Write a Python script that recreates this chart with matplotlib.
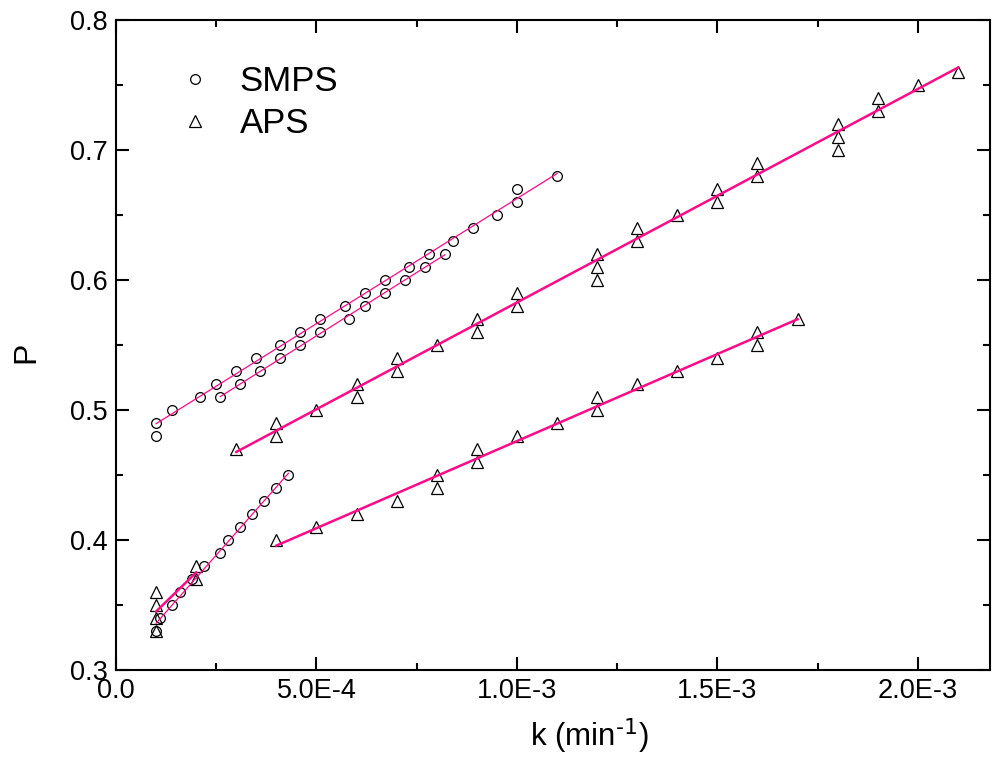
import numpy as np
import matplotlib
matplotlib.use("Agg")
import matplotlib.pyplot as plt
from matplotlib.ticker import MultipleLocator

plt.rcParams['font.family'] = ['Liberation Sans', 'DejaVu Sans']
plt.rcParams['mathtext.default'] = 'regular'

# SMPS series (circles)
smps1_k = [1e-4, 1e-4, 1.4e-4, 2.1e-4, 2.5e-4, 3.0e-4, 3.5e-4, 4.1e-4, 4.6e-4, 5.1e-4, 5.7e-4,
           6.2e-4, 6.7e-4, 7.3e-4, 7.8e-4, 8.4e-4, 8.9e-4, 9.5e-4, 1.0e-3, 1.0e-3, 1.1e-3]
smps1_p = [0.49, 0.48, 0.50, 0.51, 0.52, 0.53, 0.54, 0.55, 0.56, 0.57, 0.58,
           0.59, 0.60, 0.61, 0.62, 0.63, 0.64, 0.65, 0.66, 0.67, 0.68]
smps2_k = [2.6e-4, 3.1e-4, 3.6e-4, 4.1e-4, 4.6e-4, 5.1e-4, 5.8e-4, 6.2e-4, 6.7e-4, 7.2e-4, 7.7e-4, 8.2e-4]
smps2_p = [0.51, 0.52, 0.53, 0.54, 0.55, 0.56, 0.57, 0.58, 0.59, 0.60, 0.61, 0.62]
smps3_k = [1.0e-4, 1.1e-4, 1.4e-4, 1.6e-4, 1.9e-4, 2.2e-4, 2.6e-4, 2.8e-4, 3.1e-4, 3.4e-4, 3.7e-4, 4.0e-4, 4.3e-4]
smps3_p = [0.33, 0.34, 0.35, 0.36, 0.37, 0.38, 0.39, 0.40, 0.41, 0.42, 0.43, 0.44, 0.45]

# APS series (triangles)
aps1_k = [3e-4, 4e-4, 4e-4, 5e-4, 6e-4, 6e-4, 7e-4, 7e-4, 8e-4, 9e-4, 9e-4, 1.0e-3, 1.0e-3,
          1.2e-3, 1.2e-3, 1.2e-3, 1.3e-3, 1.3e-3, 1.4e-3, 1.5e-3, 1.5e-3, 1.6e-3, 1.6e-3,
          1.8e-3, 1.8e-3, 1.8e-3, 1.9e-3, 1.9e-3, 2.0e-3, 2.1e-3]
aps1_p = [0.47, 0.49, 0.48, 0.50, 0.52, 0.51, 0.54, 0.53, 0.55, 0.57, 0.56, 0.59, 0.58,
          0.62, 0.61, 0.60, 0.64, 0.63, 0.65, 0.67, 0.66, 0.69, 0.68,
          0.72, 0.71, 0.70, 0.74, 0.73, 0.75, 0.76]
aps2_k = [4e-4, 5e-4, 6e-4, 7e-4, 8e-4, 8e-4, 9e-4, 9e-4, 1.0e-3, 1.1e-3, 1.2e-3, 1.2e-3,
          1.3e-3, 1.4e-3, 1.5e-3, 1.6e-3, 1.6e-3, 1.7e-3]
aps2_p = [0.40, 0.41, 0.42, 0.43, 0.45, 0.44, 0.47, 0.46, 0.48, 0.49, 0.51, 0.50,
          0.52, 0.53, 0.54, 0.56, 0.55, 0.57]
aps3_k = [1e-4, 1e-4, 1e-4, 1e-4, 2e-4, 2e-4]
aps3_p = [0.36, 0.35, 0.34, 0.33, 0.38, 0.37]

x_ticks = [0.0, 5e-4, 1e-3, 1.5e-3, 2e-3]
x_labels = ['0.0', '5.0E-4', '1.0E-3', '1.5E-3', '2.0E-3']
y_ticks = [0.3, 0.4, 0.5, 0.6, 0.7, 0.8]
y_labels = ['0.3', '0.4', '0.5', '0.6', '0.7', '0.8']

LINE_C = '#FF0A88'

fig = plt.figure(figsize=(10.07, 7.61), dpi=100)
ax = fig.add_axes([116/1007, 1-670/761, (990-116)/1007, (670-20)/761])

def fit_line(k, p, lw):
    k = np.asarray(k); p = np.asarray(p)
    a, b = np.polyfit(k, p, 1)
    xs = np.array([k.min(), k.max()])
    ax.plot(xs, a*xs + b, color=LINE_C, lw=lw, zorder=3)

mk_c = dict(marker='o', ms=7, mfc='none', mec='black', mew=0.9, ls='none', zorder=2)
mk_t = dict(marker='^', ms=9, mfc='none', mec='black', mew=0.9, ls='none', zorder=2)

ax.plot(smps1_k, smps1_p, label='SMPS', **mk_c)
ax.plot(smps2_k, smps2_p, **mk_c)
ax.plot(smps3_k, smps3_p, **mk_c)
ax.plot(aps1_k, aps1_p, label='APS', **mk_t)
ax.plot(aps2_k, aps2_p, **mk_t)
ax.plot(aps3_k, aps3_p, **mk_t)

fit_line(smps1_k, smps1_p, 0.9)
fit_line(smps2_k, smps2_p, 0.9)
fit_line(smps3_k, smps3_p, 0.9)
fit_line(aps1_k, aps1_p, 1.8)
fit_line(aps2_k, aps2_p, 1.8)
fit_line(aps3_k, aps3_p, 1.8)

ax.set_xlim(0, 2.18e-3)
ax.set_ylim(0.3, 0.8)
ax.set_xticks(x_ticks)
ax.set_xticklabels(x_labels)
ax.set_yticks(y_ticks)
ax.set_yticklabels(y_labels)
ax.xaxis.set_minor_locator(MultipleLocator(2.5e-4))
ax.yaxis.set_minor_locator(MultipleLocator(0.05))
ax.tick_params(which='both', direction='in', top=True, right=True, width=1.5, labelsize=19.5, pad=6)
ax.tick_params(which='major', length=9.5)
ax.tick_params(which='minor', length=5)
for s in ax.spines.values():
    s.set_linewidth(1.5)

ax.set_xlabel(r'k (min$^{\text{-1}}$)', fontsize=22.5)
ax.xaxis.set_label_coords(0.541, -0.071)
ax.set_ylabel('P', fontsize=23)
ax.yaxis.set_label_coords(-0.0858, 0.488)

ax.legend(loc='upper left', bbox_to_anchor=(0.051, 0.952), frameon=False, fontsize=25,
          handlelength=1.2, handletextpad=0.68, labelspacing=0.25, borderaxespad=0)

fig.savefig('out.png', dpi=100)
